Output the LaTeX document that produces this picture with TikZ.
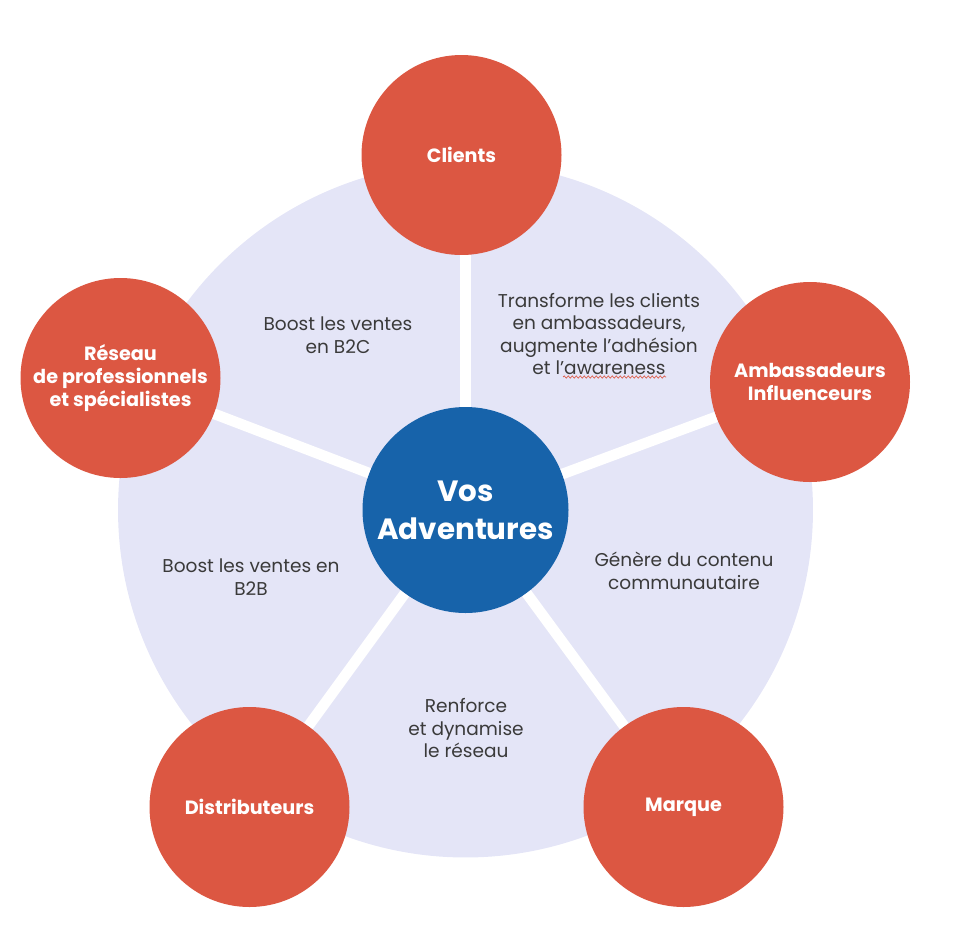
\documentclass[tikz,border=0pt]{standalone}
\usepackage{fontspec}
\setmainfont{Poppins}
\usetikzlibrary{decorations.pathmorphing}

\definecolor{rougeA}{HTML}{DC5742}
\definecolor{bleuA}{HTML}{1763AA}
\definecolor{lavande}{HTML}{E4E5F7}
\definecolor{texte}{HTML}{3A3A3A}

\begin{document}
\begin{tikzpicture}[x=0.75pt, y=-0.75pt, line cap=butt,
    pole/.style={circle, fill=rougeA, text=white, minimum size=150pt, inner sep=0pt, align=center, font=\bfseries\fontsize{14.4}{17.2}\selectfont},
    hub/.style={circle, fill=bleuA, text=white, minimum size=154.5pt, inner sep=0pt, align=center, font=\bfseries\fontsize{22}{28.5}\selectfont},
    spoke/.style={white, line width=8pt},
    sector/.style={text=texte, align=center, font=\fontsize{13.9}{16.9}\selectfont}]

                \useasboundingbox (0,0) rectangle (978,925);
                \fill[lavande] (465.5,510) circle[radius=260.6pt];

                \node[hub] (vos) at (465.5,510) {Vos\\Adventures};
                \node[pole] (clients) at (461.5,155) {Clients};
                \node[pole] (ambass) at (810,382) {Ambassadeurs\\Influenceurs};
                \node[pole] (marque) at (683.5,807) {Marque};
                \node[pole] (distrib) at (249.5,807) {Distributeurs};
                \node[pole] (reseau) at (120.5,378) {Réseau\\de professionnels\\et spécialistes};

                \draw[spoke] (vos) -- (vos |- clients.south);
                \draw[spoke] (vos) -- (ambass);
                \draw[spoke] (vos) -- (marque);
                \draw[spoke] (vos) -- (distrib);
                \draw[spoke] (vos) -- (reseau);

                \node[sector] (b2c) at (338,335) {Boost les ventes\\en B2C};
                \node[sector] (transf) at (599,334) {Transforme les clients\\en ambassadeurs,\\augmente l’adhésion\\et l’awareness};
                \node[sector] (contenu) at (684,571) {Génère du contenu\\communautaire};
                \node[sector] (renforce) at (466,728) {Renforce\\et dynamise\\le réseau};
                \node[sector] (b2b) at (251,577) {Boost les ventes en\\B2B};

                \coordinate (wavestart) at (563,377);
                \coordinate (waveend) at (666,377);
                \draw[rougeA, line width=0.5pt, decorate, decoration={snake, amplitude=0.8pt, segment length=3pt}] (wavestart) -- (waveend);

\end{tikzpicture}
\end{document}
